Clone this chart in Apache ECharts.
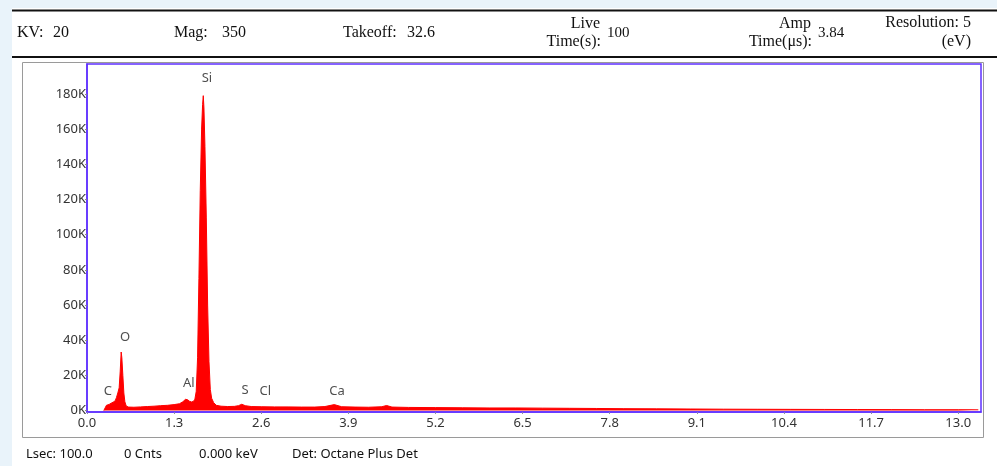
<!DOCTYPE html>
<html>
<head>
<meta charset="utf-8">
<script src="https://cdn.jsdelivr.net/npm/echarts@6/dist/echarts.min.js"></script>
<style>
html,body{margin:0;padding:0;background:#e9f3fa;}
#chart{width:997px;height:466px;}
</style>
</head>
<body>
<div id="chart"></div>
<script>
// ---- data ----
const energies = [0.25,0.27,0.29,0.31,0.33,0.36,0.39,0.42,0.44,0.46,0.48,0.495,0.51,0.52,0.535,0.55,0.565,0.585,0.62,0.7,0.8,0.9,1.0,1.1,1.2,1.3,1.38,1.43,1.47,1.5,1.53,1.56,1.59,1.61,1.63,1.65,1.67,1.69,1.71,1.725,1.735,1.745,1.76,1.78,1.8,1.82,1.84,1.86,1.89,1.93,2.0,2.1,2.2,2.26,2.31,2.36,2.45,2.6,2.8,3.0,3.2,3.4,3.55,3.69,3.8,4.0,4.2,4.4,4.47,4.55,4.8,5.2,5.6,6.0,6.4,6.8,7.2,7.6,8.0,8.5,9.0,9.5,10.0,10.5,11.0,11.5,12.0,12.5,13.0,13.3];
const counts = [0,1500,3000,3800,3500,4200,4800,5500,7500,10000,13000,22000,33300,30000,20000,10000,5000,2600,2000,1900,2100,2300,2500,2800,3000,3400,3900,5000,6400,6200,5300,4900,5300,6500,11000,30000,75000,125000,160000,174000,179000,172000,150000,110000,60000,28000,12000,7000,4500,3000,2500,2300,2400,2800,3600,2800,2300,2200,2100,2100,2000,2000,2300,3400,2200,2000,1900,2200,2900,2000,1800,1700,1600,1500,1500,1400,1300,1200,1100,1000,900,800,750,700,650,600,550,500,500,450];
const elementNames = ['C','O','Al','Si','S','Cl','Ca'];
const elementEnergies = [0.31,0.57,1.52,1.79,2.36,2.66,3.73];
const elementLabelCounts = [10700,41700,15600,189000,11700,11100,10800];
const xTicks = [0,1.3,2.6,3.9,5.2,6.5,7.8,9.1,10.4,11.7,13.0];
const yTicks = [0,20000,40000,60000,80000,100000,120000,140000,160000,180000];
const headerLeft = [['KV:','20'],['Mag:','350'],['Takeoff:','32.6']];
const headerStacked = [['Live','Time(s):','100'],['Amp','Time(\u03bcs):','3.84']];
const headerResolution = ['Resolution: 5','(eV)'];
const footer = ['Lsec: 100.0','0 Cnts','0.000 keV','Det: Octane Plus Det'];

// ---- layout ----
const PURPLE = '#5f30ff';
const serif = '"Liberation Serif", "Times New Roman", serif';
const sans = '"Noto Sans", "Open Sans", sans-serif';

const chart = echarts.init(document.getElementById('chart'));
const spectrum = energies.map((e,i)=>[e,counts[i]]);
const labelPts = elementNames.map((n,i)=>({name:n,value:[elementEnergies[i],elementLabelCounts[i]]}));

function txt(x,y,text,align,font,size){
  return {type:'text',x:x,y:y,z:100,style:{text:text,fill:'#111',font:(size||16)+'px '+font,textAlign:align||'left',textVerticalAlign:'middle'}};
}
const graphics = [
  {type:'rect',z:-100,shape:{x:12,y:8,width:985,height:458},style:{fill:'#ffffff'}},
  {type:'line',z:100,shape:{x1:12,y1:10.5,x2:997,y2:10.5},style:{stroke:'#111',lineWidth:2}},
  {type:'line',z:100,shape:{x1:12,y1:57,x2:997,y2:57},style:{stroke:'#111',lineWidth:2}},
  {type:'rect',z:-50,shape:{x:22.5,y:62.5,width:961,height:375},style:{fill:'none',stroke:'#9a9a9a',lineWidth:1}},
  txt(17,33,headerLeft[0][0],'left',serif), txt(53,33,headerLeft[0][1],'left',serif),
  txt(174,33,headerLeft[1][0],'left',serif), txt(222,33,headerLeft[1][1],'left',serif),
  txt(343,33,headerLeft[2][0],'left',serif), txt(407,33,headerLeft[2][1],'left',serif),
  txt(600,24,headerStacked[0][0],'right',serif), txt(601,42,headerStacked[0][1],'right',serif), txt(607,33,headerStacked[0][2],'left',serif,15),
  txt(811,24,headerStacked[1][0],'right',serif), txt(812,42,headerStacked[1][1],'right',serif), txt(818,33,headerStacked[1][2],'left',serif,15),
  txt(971,23,headerResolution[0],'right',serif), txt(971,42,headerResolution[1],'right',serif),
  txt(26,454,footer[0],'left',sans,13), txt(124,454,footer[1],'left',sans,13),
  txt(199,454,footer[2],'left',sans,13), txt(292,454,footer[3],'left',sans,13)
];

chart.setOption({
  backgroundColor:'#e9f3fa',
  animation:false,
  graphic:graphics,
  grid:{left:87,top:64,right:16,bottom:54,show:true,borderColor:PURPLE,borderWidth:1.5,backgroundColor:'transparent'},
  xAxis:{type:'value',min:0,max:13.34,
    axisLine:{show:true,onZero:false,lineStyle:{color:PURPLE,width:1.5}},
    axisTick:{show:true,length:2,customValues:xTicks,lineStyle:{color:'#8888aa'}},
    axisLabel:{customValues:xTicks,formatter:v=>v.toFixed(1),color:'#333',fontFamily:sans,fontSize:13,margin:5},
    splitLine:{show:false}},
  yAxis:{type:'value',min:-800,max:197000,
    axisLine:{show:true,onZero:false,lineStyle:{color:PURPLE,width:1.5}},
    axisTick:{show:true,length:2,customValues:yTicks,lineStyle:{color:'#888'}},
    axisLabel:{customValues:yTicks,formatter:v=>(v/1000)+'K',color:'#333',fontFamily:sans,fontSize:13,margin:1},
    splitLine:{show:false}},
  series:[
    {type:'line',data:spectrum,symbol:'none',smooth:false,
      lineStyle:{color:'#ff0000',width:1},
      areaStyle:{color:'#ff0000',opacity:1,origin:0},z:3},
    {type:'scatter',data:labelPts,symbolSize:1,itemStyle:{color:'rgba(0,0,0,0)'},
      label:{show:true,position:'inside',formatter:p=>p.name,color:'#222',fontFamily:sans,fontSize:13},z:5,silent:true}
  ]
});
</script>
</body>
</html>
